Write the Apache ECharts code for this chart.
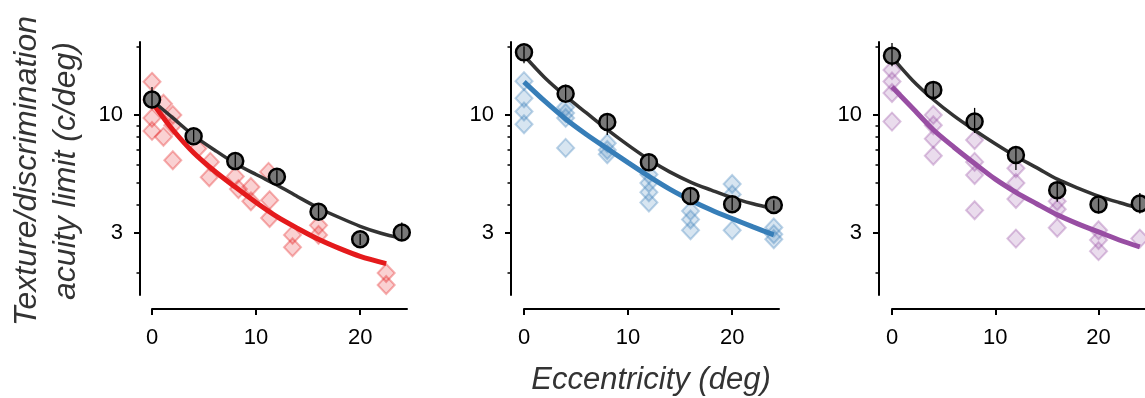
<!DOCTYPE html>
<html>
<head>
<meta charset="utf-8">
<script src="https://cdn.jsdelivr.net/npm/echarts@6/dist/echarts.min.js"></script>
<style>
  html, body { margin: 0; padding: 0; background: #fff; }
  #chart { width: 1145px; height: 398px; }
</style>
</head>
<body>
<div id="chart"></div>
<script>
// ---------------- DATA ----------------
const xTickValues = [0, 10, 20];
const yMajorTicks = [3, 10];
const yMinorTicks = [2, 4, 5, 6, 7, 8, 9, 20];
const yRange = [1.6, 21];
const xRange = [0, 24.5];

const meanEcc = [0, 4, 8, 12, 16, 20, 24];

// Panel 1 (red)
const meanP1 = [11.7, 8.05, 6.25, 5.33, 3.73, 2.82, 3.02];
const errLoP1 = [10.7, 7.6, 5.85, 5.0, 3.48, 2.66, 2.79];
const errHiP1 = [13.3, 8.6, 6.7, 5.7, 4.0, 2.98, 3.35];
const diamondsP1 = [
  [0, 14.0], [0, 11.6], [0, 9.7], [0, 8.5],
  [1.1, 11.2], [1.1, 8.0],
  [2, 10.0], [2, 9.0], [2, 6.3],
  [4.4, 7.1],
  [5.6, 6.2], [5.5, 5.3],
  [8, 5.35], [8.3, 4.7],
  [9.5, 4.8], [9.5, 4.15],
  [11.2, 5.6], [11.3, 4.2], [11.3, 3.5],
  [13.5, 2.95], [13.5, 2.6],
  [16, 3.25], [16, 2.95],
  [22.5, 2.0], [22.5, 1.77]
];
const fitEccBlack = [0, 2, 4, 6, 8, 10, 12, 14, 16, 18, 20, 22, 24];
const fitBlackP1 = [11.6, 9.7, 8.1, 7.0, 6.1, 5.45, 4.9, 4.35, 3.88, 3.52, 3.22, 3.0, 2.85];
const fitEccRed = [0.3, 2, 4, 6, 8, 10, 12, 14, 16, 18, 20, 22.5];
const fitRed = [10.9, 8.6, 6.8, 5.65, 4.8, 4.1, 3.55, 3.15, 2.82, 2.57, 2.37, 2.2];

// Panel 2 (blue)
const meanP2 = [18.9, 12.4, 9.3, 6.17, 4.38, 4.03, 4.0];
const errLoP2 = [16.9, 11.65, 8.15, 5.71, 4.06, 3.79, 3.79];
const errHiP2 = [20.1, 13.6, 10.0, 6.65, 4.73, 4.35, 4.2];
const diamondsP2 = [
  [0, 14.1], [0, 11.85], [0, 10.35], [0, 9.1],
  [4, 10.8], [4, 10.2], [4, 9.7], [4, 7.15],
  [8, 7.5], [8, 7.0], [8, 6.7],
  [12, 5.45], [12, 5.0], [12, 4.55], [12, 4.1],
  [16, 3.76], [16, 3.45], [16, 3.09],
  [20, 4.95], [20, 4.45], [20, 3.09],
  [24, 3.18], [24, 2.97], [24, 2.82]
];
const fitBlackP2 = [18.3, 14.6, 12.1, 10.2, 8.6, 7.35, 6.35, 5.6, 5.05, 4.65, 4.3, 4.05, 3.85];
const fitEccBlue = [0, 2, 4, 6, 8, 10, 12, 14, 16, 18, 20, 22, 24];
const fitBlue = [14.0, 11.5, 9.6, 8.2, 7.1, 6.15, 5.35, 4.7, 4.2, 3.8, 3.48, 3.2, 2.95];

// Panel 3 (purple)
const meanP3 = [18.25, 12.9, 9.34, 6.65, 4.65, 4.02, 4.06];
const errLoP3 = [16.4, 11.65, 8.32, 5.71, 4.13, 3.67, 3.67];
const errHiP3 = [20.8, 14.05, 10.74, 7.24, 5.07, 4.28, 4.52];
const diamondsP3 = [
  [0, 15.8], [0, 14.05], [0, 12.5], [0, 9.34],
  [4, 10.0], [4, 9.0], [4, 7.85], [4, 6.6],
  [8, 7.75], [8, 6.2], [8, 5.42], [8, 3.79],
  [12, 5.81], [12, 5.0], [12, 4.25], [12, 2.84],
  [16, 4.15], [16, 3.83], [16, 3.17],
  [20, 3.09], [20, 2.8], [20, 2.5],
  [24, 2.84]
];
const fitBlackP3 = [18.0, 14.2, 11.7, 9.9, 8.55, 7.45, 6.55, 5.85, 5.2, 4.75, 4.38, 4.1, 3.86];
const fitEccPurple = [0, 2, 4, 6, 8, 10, 12, 14, 16, 18, 20, 22, 24];
const fitPurple = [13.3, 10.7, 8.6, 7.2, 6.1, 5.2, 4.55, 4.05, 3.62, 3.3, 3.04, 2.8, 2.61];

const yTitle = 'Texture/discrimination\nacuity limit (c/deg)';
const xTitle = 'Eccentricity (deg)';

// ---------------- BUILD ----------------
const L = v => Math.log10(v);
const FONT = '"Liberation Sans", Arial, Helvetica, sans-serif';

const panels = [
  { diamonds: diamondsP1, fitX: fitEccRed, fitY: fitRed, black: fitBlackP1, mean: meanP1, lo: errLoP1, hi: errHiP1,
    line: '#e41a1c', fill: 'rgba(228,26,28,0.25)', border: 'rgba(228,26,28,0.42)' },
  { diamonds: diamondsP2, fitX: fitEccBlue, fitY: fitBlue, black: fitBlackP2, mean: meanP2, lo: errLoP2, hi: errHiP2,
    line: '#377eb8', fill: 'rgba(55,126,184,0.25)', border: 'rgba(55,126,184,0.42)' },
  { diamonds: diamondsP3, fitX: fitEccPurple, fitY: fitPurple, black: fitBlackP3, mean: meanP3, lo: errLoP3, hi: errHiP3,
    line: '#984ea3', fill: 'rgba(152,78,163,0.25)', border: 'rgba(152,78,163,0.42)' }
];

const gridLefts = [152, 524, 892];
const yOffsets = [12, 13, 13];

const grids = [], xAxes = [], yAxes = [], series = [];

panels.forEach((p, i) => {
  grids.push({ left: gridLefts[i], top: 42, width: 255, height: 253, containLabel: false });
  xAxes.push({
    type: 'value', gridIndex: i, min: xRange[0], max: xRange[1], offset: 14, position: 'bottom',
    axisLine: { show: true, onZero: false, lineStyle: { color: '#000', width: 2 } },
    axisTick: { show: true, customValues: xTickValues, length: 6, lineStyle: { color: '#000', width: 2 } },
    axisLabel: { customValues: xTickValues, fontSize: 22, color: '#000', margin: 18, fontFamily: FONT },
    splitLine: { show: false }
  });
  const common = {
    type: 'value', gridIndex: i, min: L(yRange[0]), max: L(yRange[1]),
    position: 'left', offset: yOffsets[i], splitLine: { show: false }
  };
  yAxes.push(Object.assign({}, common, {
    axisLine: { show: true, onZero: false, lineStyle: { color: '#000', width: 2 } },
    axisTick: { show: true, customValues: yMajorTicks.map(L), length: 6, lineStyle: { color: '#000', width: 2 } },
    axisLabel: {
      customValues: yMajorTicks.map(L), fontSize: 22, color: '#000', margin: 17, fontFamily: FONT,
      formatter: v => String(Math.round(Math.pow(10, v)))
    }
  }));
  yAxes.push(Object.assign({}, common, {
    axisLine: { show: false, onZero: false },
    axisTick: { show: true, customValues: yMinorTicks.map(L), length: 3.5, lineStyle: { color: '#000', width: 1.5 } },
    axisLabel: { show: false }
  }));

  const yi = 2 * i;
  series.push({
    type: 'scatter', xAxisIndex: i, yAxisIndex: yi, z: 1,
    symbol: 'diamond', symbolSize: [17, 18],
    itemStyle: { color: p.fill, borderColor: p.border, borderWidth: 2 },
    data: p.diamonds.map(d => [d[0], L(d[1])])
  });
  series.push({
    type: 'line', xAxisIndex: i, yAxisIndex: yi, z: 2, smooth: 0.3, showSymbol: false,
    lineStyle: { color: p.line, width: 5 },
    data: p.fitX.map((x, k) => [x, L(p.fitY[k])])
  });
  series.push({
    type: 'line', xAxisIndex: i, yAxisIndex: yi, z: 3, smooth: 0.3, showSymbol: false,
    lineStyle: { color: '#333333', width: 3.5 },
    data: fitEccBlack.map((x, k) => [x, L(p.black[k])])
  });
  series.push({
    type: 'scatter', xAxisIndex: i, yAxisIndex: yi, z: 4,
    symbol: 'circle', symbolSize: 16,
    itemStyle: { color: '#787878', borderColor: '#000', borderWidth: 2.5, opacity: 1 },
    data: meanEcc.map((x, k) => [x, L(p.mean[k])])
  });
  series.push({
    type: 'custom', xAxisIndex: i, yAxisIndex: yi, z: 5, clip: false,
    renderItem: (params, api) => {
      const a = api.coord([api.value(0), api.value(1)]);
      const b = api.coord([api.value(0), api.value(2)]);
      return { type: 'line', shape: { x1: a[0], y1: a[1], x2: b[0], y2: b[1] },
               style: { stroke: '#000', lineWidth: 1.3 } };
    },
    data: meanEcc.map((x, k) => [x, L(p.lo[k]), L(p.hi[k])])
  });
});

const chart = echarts.init(document.getElementById('chart'), null, { renderer: 'canvas' });
chart.setOption({
  animation: false,
  backgroundColor: '#fff',
  grid: grids, xAxis: xAxes, yAxis: yAxes, series: series,
  graphic: [
    { type: 'text', x: 47, y: 171, rotation: Math.PI / 2,
      style: { text: yTitle, fontSize: 32, fontStyle: 'italic', fontFamily: FONT, fill: '#333',
               align: 'center', verticalAlign: 'middle', textAlign: 'center', textVerticalAlign: 'middle', lineHeight: 39 } },
    { type: 'text', x: 651, y: 380,
      style: { text: xTitle, fontSize: 31, fontStyle: 'italic', fontFamily: FONT, fill: '#333',
               align: 'center', verticalAlign: 'middle', textAlign: 'center', textVerticalAlign: 'middle' } }
  ]
});
</script>
</body>
</html>
